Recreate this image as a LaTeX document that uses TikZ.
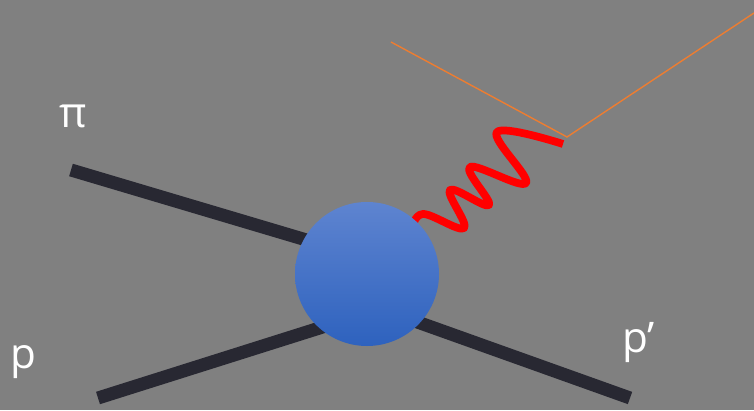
\documentclass[tikz,border=0pt]{standalone}
\usepackage{fontspec}
\setmainfont{Open Sans}
\usetikzlibrary{positioning}
\definecolor{bggray}{RGB}{128,128,128}
\definecolor{darkline}{RGB}{40,40,50}
\definecolor{blobtop}{RGB}{94,132,208}
\definecolor{blobbottom}{RGB}{46,98,190}
\definecolor{myorange}{RGB}{237,125,49}
\tikzset{
  hadron/.style={draw=darkline, line width=0.26cm},
  photon/.style={draw=red, line width=0.155cm},
  guide/.style={draw=myorange, line width=0.8pt},
  blob/.style={circle, minimum size=2.88cm, inner sep=0pt, top color=blobtop, bottom color=blobbottom},
  lbl/.style={text=white, inner sep=0pt, anchor=base west, font=\fontsize{24}{28}\selectfont}
}

\begin{document}
\begin{tikzpicture}
\fill[bggray] (0,0) rectangle (15.08,8.2);
\useasboundingbox (0,0) rectangle (15.08,8.2);

%The legs:
\coordinate (PiOut) at (1.42,4.8);
\coordinate (PiIn) at (7.34,3.04);
\coordinate (POut) at (1.96,0.24);
\coordinate (PIn) at (7.34,1.94);
\coordinate (PprIn) at (7.34,2.12);
\coordinate (PprOut) at (12.6,0.24);

\draw[hadron] (PiOut) -- (PiIn);
\draw[hadron] (POut) -- (PIn);
\draw[hadron] (PprIn) -- (PprOut);

%The photon:
\draw[photon, line join=round] plot [smooth, tension=0.65] coordinates {(8.24,3.6) (8.46,3.92) (9.28,3.64) (9.0,4.4) (9.78,4.1) (9.4,4.86) (10.52,4.54) (9.94,5.56) (11.26,5.32)};

\node[blob] (vertex) at (7.34,2.72) {};

%The orange lines:
\coordinate (O1) at (7.82,7.36);
\coordinate (O2) at (11.34,5.46);
\coordinate (O3) at (15.08,7.94);
\draw[guide] (O1) -- (O2) -- (O3);

\node[lbl] (pilabel) at (1.18,5.64) {π};
\node[lbl] (plabel) at (0.2,0.84) {p};
\node[lbl] (pprlabel) at (12.44,1.16) {p’};

\end{tikzpicture}
\end{document}
